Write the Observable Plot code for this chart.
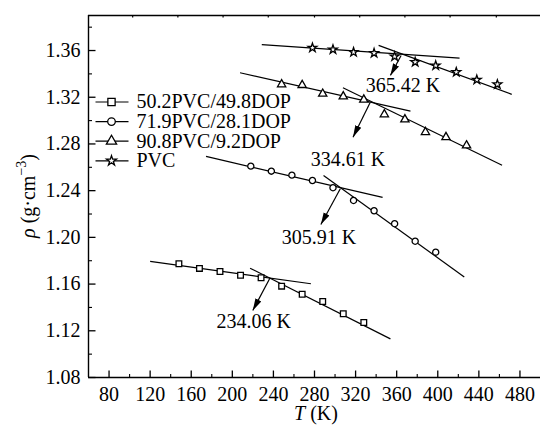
<!DOCTYPE html>
<html>
<head>
<meta charset="utf-8">
<script src="https://cdn.jsdelivr.net/npm/d3@7"></script>
<script src="https://cdn.jsdelivr.net/npm/@observablehq/plot@0.6"></script>
<style>
  html, body { margin: 0; padding: 0; background: #fff; }
  #chart { width: 540px; height: 425px; }
  #chart svg, #chart svg text { font-family: 'Liberation Serif', 'DejaVu Serif', serif; }
</style>
</head>
<body>
<div id="chart"></div>
<script>
// ---------- data ----------
const seriesNames = ["50.2PVC/49.8DOP", "71.9PVC/28.1DOP", "90.8PVC/9.2DOP", "PVC"];
const seriesSymbols = ["square", "circle", "triangle", "star"];
const seriesR = [4.1, 3.8, 3.8, 3.1];

const tempSquare = [148, 168, 188, 208, 228, 248, 268, 288, 308, 328];
const rhoSquare = [1.1774, 1.1734, 1.1708, 1.1676, 1.1654, 1.1582, 1.1513, 1.1451, 1.1346, 1.1271];
const tempCircle = [218, 238, 258, 278, 298, 318, 338, 358, 378, 398];
const rhoCircle = [1.2610, 1.2567, 1.2533, 1.2487, 1.2425, 1.2316, 1.2228, 1.2117, 1.1967, 1.1873];
const tempTriangle = [248, 268, 288, 308, 328, 348, 368, 388, 408, 428];
const rhoTriangle = [1.3310, 1.3304, 1.3230, 1.3207, 1.3179, 1.3053, 1.3010, 1.2901, 1.2858, 1.2787];
const tempStar = [278, 298, 318, 338, 358, 378, 398, 418, 438, 458];
const rhoStar = [1.3624, 1.3609, 1.3586, 1.3578, 1.3549, 1.3501, 1.3472, 1.3415, 1.3350, 1.3310];

// fitted straight lines (glassy and rubbery branch of every series)
const fitStartT = [120, 217.3, 174.4, 288.8, 207.5, 307.7, 228.7, 342.4];
const fitStartRho = [1.1794, 1.1736, 1.2693, 1.2530, 1.3410, 1.3281, 1.3650, 1.3644];
const fitEndT = [276.5, 353.9, 346.3, 425.8, 373.4, 462.6, 421.2, 472];
const fitEndRho = [1.1603, 1.1131, 1.2342, 1.1661, 1.3081, 1.2617, 1.3535, 1.3225];

// glass transition annotations
const tgLabels = ["234.06 K", "305.91 K", "334.61 K", "365.42 K"];
const arrowFromT = [236.8, 305.1, 334.3, 364.3];
const arrowFromRho = [1.1654, 1.2416, 1.3158, 1.3558];
const arrowToT = [219.9, 286.2, 317.5, 353.9];
const arrowToRho = [1.1374, 1.2110, 1.2858, 1.3387];
const labelT = [220.9, 284.4, 312.5, 366.2];
const labelRho = [1.1277, 1.1995, 1.2662, 1.3301];

// ticks
const xTicks = [80, 120, 160, 200, 240, 280, 320, 360, 400, 440, 480];
const xMinorTicks = [100, 140, 180, 220, 260, 300, 340, 380, 420, 460];
const topTicks = [103, 147, 191, 235, 280, 324, 368, 412, 457];
const yTicks = [1.08, 1.12, 1.16, 1.20, 1.24, 1.28, 1.32, 1.36];
const yMinorTicks = [1.10, 1.14, 1.18, 1.22, 1.26, 1.30, 1.34, 1.38];

// ---------- tables built from the arrays ----------
const seriesTemps = [tempSquare, tempCircle, tempTriangle, tempStar];
const seriesRhos = [rhoSquare, rhoCircle, rhoTriangle, rhoStar];
const points = seriesNames.flatMap((name, i) =>
  seriesTemps[i].map((t, j) => ({series: name, symbol: seriesSymbols[i], r: seriesR[i], T: t, rho: seriesRhos[i][j]})));
const fits = fitStartT.map((t, i) => ({x1: t, y1: fitStartRho[i], x2: fitEndT[i], y2: fitEndRho[i]}));
const arrows = tgLabels.map((label, i) => ({
  label, x1: arrowFromT[i], y1: arrowFromRho[i], x2: arrowToT[i], y2: arrowToRho[i], lx: labelT[i], ly: labelRho[i]
}));

// tick symbols (pixel-length strokes)
const tickSym = (dx, dy) => ({draw(ctx) { ctx.moveTo(0, 0); ctx.lineTo(dx, dy); }});
const legendLineSym = {draw(ctx) { ctx.moveTo(-16, 0); ctx.lineTo(17, 0); }};

const font = "'Liberation Serif', 'DejaVu Serif', serif";
const mL = 88, mT = 15;

const legendMarks = seriesNames.flatMap((name, i) => {
  const rowY = 101.5 + i * 19.6;
  return [
    Plot.dot([0], {frameAnchor: "top-left", dx: 111 - mL, dy: rowY - mT, symbol: legendLineSym, stroke: "black", strokeWidth: 1.2, fill: "none"}),
    Plot.dot([0], {frameAnchor: "top-left", dx: 111 - mL, dy: rowY - mT, symbol: seriesSymbols[i], r: seriesR[i], stroke: "black", strokeWidth: 1.3, fill: "white"}),
    Plot.text([name], {frameAnchor: "top-left", dx: 136 - mL, dy: rowY - mT, text: d => d, textAnchor: "start", lineAnchor: "middle", fontSize: 20, fill: "black"})
  ];
});

const plot = Plot.plot({
  width: 540,
  height: 425,
  marginLeft: mL,
  marginRight: 0,
  marginTop: mT,
  marginBottom: 48,
  style: {fontFamily: font, fontSize: "20px", background: "white", color: "black", overflow: "visible"},
  x: {domain: [60, 500], label: null},
  y: {domain: [1.08, 1.39], label: null},
  symbol: {type: "identity"},
  marks: [
    Plot.axisX({ticks: xTicks, tickSize: 0, tickPadding: 9, label: null, fontSize: 20}),
    Plot.axisY({ticks: yTicks, tickSize: 0, tickPadding: 8, tickFormat: ".2f", label: null, fontSize: 20}),
    // frame
    Plot.ruleX([60], {stroke: "black", strokeWidth: 1.4}),
    Plot.ruleY([1.08], {stroke: "black", strokeWidth: 1.4}),
    Plot.ruleY([1.39], {stroke: "black", strokeWidth: 1.4}),
    // inward ticks
    Plot.dot(xTicks, {x: d => d, frameAnchor: "bottom", symbol: tickSym(0, -7), stroke: "black", strokeWidth: 1.3, fill: "none"}),
    Plot.dot(xMinorTicks, {x: d => d, frameAnchor: "bottom", symbol: tickSym(0, -3.5), stroke: "black", strokeWidth: 1.1, fill: "none"}),
    Plot.dot(topTicks, {x: d => d, frameAnchor: "top", symbol: tickSym(0, 2), stroke: "black", strokeWidth: 1.2, fill: "none"}),
    Plot.dot(yTicks, {y: d => d, frameAnchor: "left", symbol: tickSym(7, 0), stroke: "black", strokeWidth: 1.3, fill: "none"}),
    Plot.dot(yMinorTicks, {y: d => d, frameAnchor: "left", symbol: tickSym(3.5, 0), stroke: "black", strokeWidth: 1.1, fill: "none"}),
    // fitted lines
    Plot.link(fits, {x1: "x1", y1: "y1", x2: "x2", y2: "y2", stroke: "black", strokeWidth: 1.2}),
    // data points
    Plot.dot(points, {x: "T", y: "rho", symbol: "symbol", r: "r", stroke: "black", strokeWidth: 1.3, fill: "white"}),
    // arrows + labels
    Plot.link(arrows, {x1: "x1", y1: "y1", x2: "x2", y2: "y2", stroke: "black", strokeWidth: 1.2, markerEnd: "arrow"}),
    Plot.text(arrows, {x: "lx", y: "ly", text: "label", textAnchor: "middle", lineAnchor: "middle", fontSize: 20, fill: "black"}),
    ...legendMarks
  ]
});

// filled arrow heads
d3.select(plot).selectAll("marker").each(function () {
  const m = d3.select(this);
  m.attr("viewBox", "-12 -4 12 8").attr("markerWidth", 12).attr("markerHeight", 8)
   .attr("markerUnits", "userSpaceOnUse").attr("refX", 0).attr("refY", 0)
   .attr("fill", "black").attr("stroke", "none");
  m.selectAll("*").remove();
  m.append("path").attr("d", "M-12,-3.3L0,0L-12,3.3Z").attr("fill", "black").attr("stroke", "none");
});

// axis titles with italic symbols and superscript
const svg = d3.select(plot);
const yt = svg.append("text")
  .attr("transform", "translate(35,196) rotate(-90)")
  .attr("text-anchor", "middle")
  .style("font-family", font).attr("font-size", 20).attr("fill", "black");
yt.append("tspan").attr("font-style", "italic").text("ρ");
yt.append("tspan").text(" (g·cm");
yt.append("tspan").attr("dy", -9).attr("font-size", 14).text("−3");
yt.append("tspan").attr("dy", 9).text(")");

const xt = svg.append("text")
  .attr("x", 316).attr("y", 420)
  .attr("text-anchor", "middle")
  .style("font-family", font).attr("font-size", 20).attr("fill", "black");
xt.append("tspan").attr("font-style", "italic").text("T");
xt.append("tspan").text(" (K)");

document.getElementById("chart").appendChild(plot);
</script>
</body>
</html>
